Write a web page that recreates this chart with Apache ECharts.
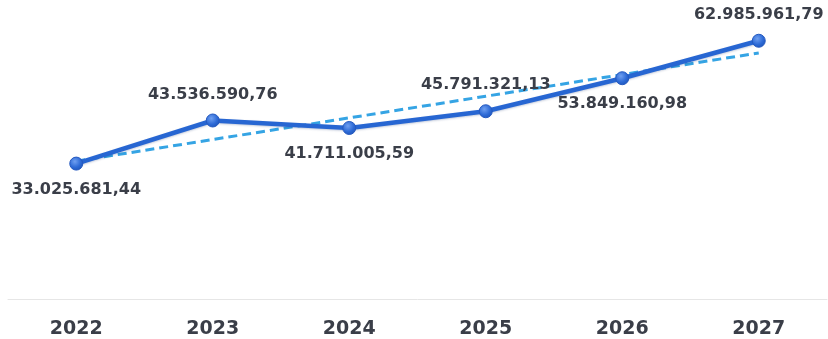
<!DOCTYPE html>
<html>
<head>
<meta charset="utf-8">
<script src="https://cdn.jsdelivr.net/npm/echarts@6/dist/echarts.min.js"></script>
<style>
  html, body { margin: 0; padding: 0; background: #ffffff; }
  #chart { width: 828px; height: 339px; }
</style>
</head>
<body>
<div id="chart"></div>
<script>
// Yearly totals
const years = ['2022', '2023', '2024', '2025', '2026', '2027'];
const totals = [33025681.44, 43536590.76, 41711005.59, 45791321.13, 53849160.98, 62985961.79];
// Which side of the point each value label sits on
const labelSides = ['bottom', 'top', 'bottom', 'top', 'bottom', 'top'];

// Least-squares linear trendline through the totals
function linearTrend(values) {
  const n = values.length;
  const xm = (n - 1) / 2;
  const ym = values.reduce((a, b) => a + b, 0) / n;
  let sxy = 0, sxx = 0;
  values.forEach((v, i) => { sxy += (i - xm) * (v - ym); sxx += (i - xm) * (i - xm); });
  const slope = sxy / sxx;
  return values.map((_, i) => ym + slope * (i - xm));
}
const trend = linearTrend(totals);

function formatValue(v) {
  const parts = v.toFixed(2).split('.');
  const intPart = parts[0].replace(/\B(?=(\d{3})+(?!\d))/g, '.');
  return intPart + ',' + parts[1];
}

const labelFont = {
  fontFamily: 'DejaVu Sans',
  fontWeight: 'bold',
  fontSize: 16,
  color: '#3a3e48'
};

const chart = echarts.init(document.getElementById('chart'), null, { renderer: 'canvas' });
chart.setOption({
  backgroundColor: '#ffffff',
  animation: false,
  grid: { left: 8, right: 1, top: 12, bottom: 40 },
  xAxis: {
    type: 'category',
    data: years,
    boundaryGap: true,
    axisLine: { show: true, lineStyle: { color: '#e6e6e6', width: 1 } },
    axisTick: { show: false },
    axisLabel: {
      margin: 21,
      fontFamily: 'DejaVu Sans',
      fontWeight: 'bold',
      fontSize: 19,
      color: '#3a3e48'
    }
  },
  yAxis: {
    type: 'value',
    min: 0,
    max: 70000000,
    show: false,
    splitLine: { show: false }
  },
  series: [
    {
      name: 'Tendencia',
      type: 'line',
      data: trend,
      symbol: 'none',
      silent: true,
      z: 1,
      lineStyle: { color: '#35a4e4', width: 3, type: [9, 5] }
    },
    {
      name: 'Total',
      type: 'line',
      data: totals.map((v, i) => ({
        value: v,
        label: { position: labelSides[i] }
      })),
      z: 2,
      symbol: 'circle',
      symbolSize: 13,
      lineStyle: {
        color: '#2766d2',
        width: 4.5,
        shadowColor: 'rgba(30,60,120,0.25)',
        shadowBlur: 2,
        shadowOffsetY: 1
      },
      itemStyle: {
        color: new echarts.graphic.RadialGradient(0.4, 0.35, 0.7, [
          { offset: 0, color: '#6f9ff0' },
          { offset: 0.6, color: '#2d6ad6' },
          { offset: 1, color: '#1f55b8' }
        ]),
        borderColor: '#2459c0',
        borderWidth: 1
      },
      label: Object.assign({
        show: true,
        distance: 11,
        formatter: p => formatValue(p.value)
      }, labelFont)
    }
  ]
});
</script>
</body>
</html>
